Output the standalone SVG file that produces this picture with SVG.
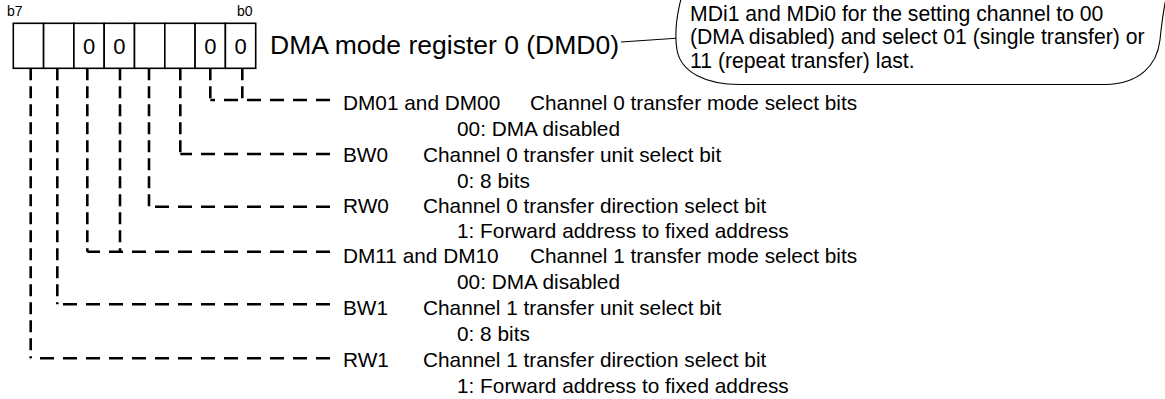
<svg xmlns="http://www.w3.org/2000/svg" width="1165" height="399" viewBox="0 0 1165 399">
<style>
text{font-family:"Liberation Sans",Arial,sans-serif;fill:#000}
.bit{font-size:14px}
.dig{font-size:22px;text-anchor:middle}
.title{font-size:26.5px}
.lbl{font-size:20.8px}
.call{font-size:21.2px}
.cell{fill:#fff;stroke:#000;stroke-width:1.6}
.v{fill:none;stroke:#000;stroke-width:2.6;stroke-dasharray:12 6}
.h{fill:none;stroke:#000;stroke-width:2.6;stroke-dasharray:14 9}
.thin{fill:none;stroke:#000;stroke-width:1.1}
</style>
<rect width="1165" height="399" fill="#fff"/>
<g id="register">
<text class="bit" x="7" y="16">b7</text>
<text class="bit" x="237" y="16">b0</text>
<rect class="cell" x="13.3" y="23.3" width="30.3" height="45"/>
<rect class="cell" x="43.6" y="23.3" width="30.3" height="45"/>
<rect class="cell" x="73.9" y="23.3" width="30.3" height="45"/>
<rect class="cell" x="104.2" y="23.3" width="30.3" height="45"/>
<rect class="cell" x="134.5" y="23.3" width="30.3" height="45"/>
<rect class="cell" x="164.8" y="23.3" width="30.3" height="45"/>
<rect class="cell" x="195.1" y="23.3" width="30.3" height="45"/>
<rect class="cell" x="225.4" y="23.3" width="30.3" height="45"/>
<text class="dig" x="89" y="54">0</text>
<text class="dig" x="119.3" y="54">0</text>
<text class="dig" x="210.3" y="54">0</text>
<text class="dig" x="240.6" y="54">0</text>
</g>
<g id="title">
<text class="title" x="270" y="54">DMA mode register 0 (DMD0)</text>
</g>
<g id="callout">
<path class="thin" d="M 697 -40 C 680 -10, 673 25, 677 50 C 681 72, 705 84.5, 740 84.5 L 1105 84.5 C 1140 84, 1157 65, 1160 40 C 1162 20, 1164 5, 1168 -10"/>
<text class="call" x="690" y="20.5">MDi1 and MDi0 for the setting channel to 00</text>
<text class="call" x="690" y="44">(DMA disabled) and select 01 (single transfer) or</text>
<text class="call" x="690" y="67.5">11 (repeat transfer) last.</text>
</g>
<g id="connectors">
<line class="thin" x1="621" y1="42" x2="676" y2="38.3"/>
<path class="v" d="M 242.3 68.3 V 100"/>
<path class="v" d="M 210.3 68.3 V 100"/>
<path class="h" d="M 330 100 H 210.3"/>
<path class="v" d="M 180.3 68.3 V 154"/>
<path class="h" d="M 330 154 H 180.3"/>
<path class="v" d="M 149 68.3 V 206.7"/>
<path class="h" d="M 330 206.7 H 149"/>
<path class="v" d="M 120 68.3 V 251.7"/>
<path class="v" d="M 87.3 68.3 V 251.7"/>
<path class="h" d="M 330 251.7 H 87.3"/>
<path class="v" d="M 57.3 68.3 V 304.3"/>
<path class="h" d="M 330 304.3 H 57.3"/>
<path class="v" d="M 30.7 68.3 V 358.3"/>
<path class="h" d="M 330 358.3 H 30.7"/>
</g>
<g id="field-dm0">
<text class="lbl" x="343" y="110">DM01 and DM00</text>
<text class="lbl" x="530" y="110">Channel 0 transfer mode select bits</text>
<text class="lbl" x="457" y="136">00: DMA disabled</text>
</g>
<g id="field-bw0">
<text class="lbl" x="343" y="161.7">BW0</text>
<text class="lbl" x="423" y="161.7">Channel 0 transfer unit select bit</text>
<text class="lbl" x="457" y="187.5">0: 8 bits</text>
</g>
<g id="field-rw0">
<text class="lbl" x="343" y="213">RW0</text>
<text class="lbl" x="423" y="213">Channel 0 transfer direction select bit</text>
<text class="lbl" x="457" y="238">1: Forward address to fixed address</text>
</g>
<g id="field-dm1">
<text class="lbl" x="343" y="262.5">DM11 and DM10</text>
<text class="lbl" x="530" y="262.5">Channel 1 transfer mode select bits</text>
<text class="lbl" x="457" y="289">00: DMA disabled</text>
</g>
<g id="field-bw1">
<text class="lbl" x="343" y="315">BW1</text>
<text class="lbl" x="423" y="315">Channel 1 transfer unit select bit</text>
<text class="lbl" x="457" y="341">0: 8 bits</text>
</g>
<g id="field-rw1">
<text class="lbl" x="343" y="366.7">RW1</text>
<text class="lbl" x="423" y="366.7">Channel 1 transfer direction select bit</text>
<text class="lbl" x="457" y="392.5">1: Forward address to fixed address</text>
</g>
</svg>
